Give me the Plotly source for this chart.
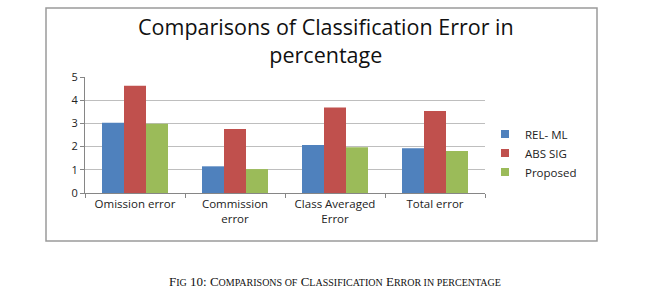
import plotly.graph_objects as go

categories = ["Omission error", "Commission<br>error", "Class Averaged<br>Error", "Total error"]
series_names = ["REL- ML", "ABS SIG", "Proposed"]
rel_ml = [3.03, 1.15, 2.07, 1.93]
abs_sig = [4.62, 2.76, 3.68, 3.53]
proposed = [2.99, 1.03, 1.97, 1.81]
colors = ["#4F81BD", "#C0504D", "#9BBB59"]
y_ticks = [0, 1, 2, 3, 4, 5]
title_text = "Comparisons of Classification Error in<br>percentage"

W, H = 668, 297
L, R, T, B = 85, 485, 77, 193  # plot area pixel bounds

def px_x(p):
    return (p - L) / (R - L)

def px_y(p):
    return (B - p) / (B - T)

fig = go.Figure()
for name, vals, c in zip(series_names, [rel_ml, abs_sig, proposed], colors):
    fig.add_trace(go.Bar(x=categories, y=vals, name=name, marker_color=c,
                         marker_line_width=0, showlegend=False))
    fig.add_trace(go.Scatter(x=[None], y=[None], mode="markers", name=name,
                             marker=dict(symbol="square", size=8, color=c)))

font_main = "'Open Sans', sans-serif"

fig.update_layout(
    width=W, height=H,
    margin=dict(l=L, r=W - R, t=T, b=H - B),
    paper_bgcolor="white", plot_bgcolor="white",
    barmode="group", bargap=0.34, bargroupgap=0,
    font=dict(family=font_main, size=10, color="#222"),
    showlegend=True,
    legend=dict(x=px_x(485), y=px_y(153), xanchor="left", yanchor="middle",
                font=dict(size=11.5, family=font_main, color="#222"),
                itemsizing="trace", tracegroupgap=0, bgcolor="rgba(0,0,0,0)"),
    xaxis=dict(showline=True, linecolor="#868686", linewidth=1,
               ticks="outside", ticklen=4, tickcolor="#868686",
               tickson="boundaries", showgrid=False,
               tickfont=dict(size=11.5, family=font_main, color="#222"),
               fixedrange=True),
    yaxis=dict(range=[0, 5], tickvals=y_ticks, showline=True, linecolor="#868686",
               linewidth=1, ticks="outside", ticklen=4, tickcolor="#868686",
               showgrid=True, gridcolor="#BEBEBE", gridwidth=1, zeroline=False,
               tickfont=dict(size=11, family=font_main, color="#222"),
               fixedrange=True),
)

# chart frame
fig.add_shape(type="rect", xref="paper", yref="paper",
              x0=px_x(46), x1=px_x(597), y0=px_y(241), y1=px_y(8),
              line=dict(color="#9a9a9a", width=1.5), layer="below")

# title
fig.add_annotation(xref="paper", yref="paper", x=px_x(326), y=px_y(40),
                   text=title_text, showarrow=False,
                   font=dict(size=21.5, family=font_main, color="#111"),
                   xanchor="center", yanchor="middle", align="center")

# caption (small caps)
sc = "<span style='font-size:10px'>"
cap = ("F" + sc + "IG</span> 10: C" + sc + "OMPARISONS OF</span> C" + sc + "LASSIFICATION</span> E"
       + sc + "RROR IN PERCENTAGE</span>")
fig.add_annotation(xref="paper", yref="paper", x=px_x(335), y=px_y(281),
                   text=cap, showarrow=False,
                   font=dict(size=13, family="'Liberation Serif', serif", color="#111"),
                   xanchor="center", yanchor="middle")

fig.write_html("out.html")
